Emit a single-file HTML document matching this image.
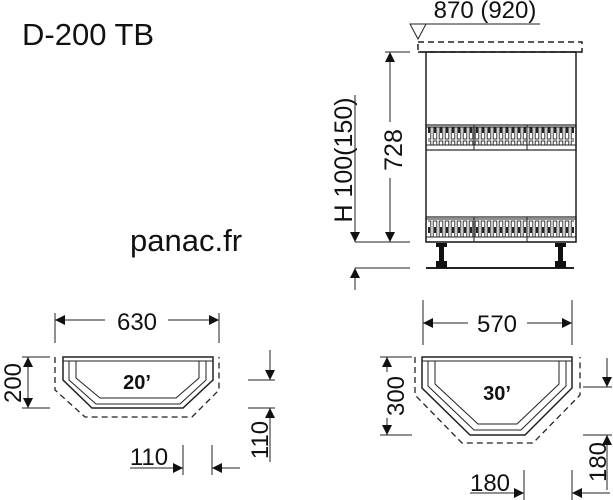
<!DOCTYPE html>
<html><head><meta charset="utf-8"><style>
body{margin:0;background:#fff}
svg{display:block}
text{font-family:"Liberation Sans",Arial,sans-serif;fill:#111}
</style></head><body>
<svg width="613" height="500" viewBox="0 0 613 500" xmlns="http://www.w3.org/2000/svg">
<defs>
<marker id="a" viewBox="0 0 10 10" refX="10" refY="5" markerWidth="10" markerHeight="10" orient="auto-start-reverse" markerUnits="userSpaceOnUse"><path d="M0,0L10,5L0,10z" fill="#111"/></marker>
<pattern id="bal" width="6" height="20" patternUnits="userSpaceOnUse"><rect x="1.2" y="1" width="3.6" height="18" fill="none" stroke="#222" stroke-width="0.9"/><rect x="2" y="7" width="2" height="6" fill="#222"/></pattern>
</defs>
<text x="22" y="45" font-size="31">D-200 TB</text>
<text x="130" y="251" font-size="31">panac.fr</text>

<g stroke="#222" fill="none" stroke-width="1">
<line x1="410" y1="24" x2="540" y2="24"/>
<path d="M410,24L426,24L418,39z"/>
<rect x="418" y="42" width="164" height="10" stroke-dasharray="6,4" stroke-width="1.5"/>
<line x1="418" y1="52" x2="582" y2="52" stroke-width="1.5"/>
<rect x="426" y="52" width="150" height="190" stroke-width="1.5"/>
<rect x="426" y="125" width="150" height="25" stroke-width="1.2"/>
<rect x="426" y="217" width="150" height="25" stroke-width="1.2"/>
<rect x="428" y="127" width="146" height="18" fill="url(#bal)" stroke="none"/>
<rect x="428" y="219" width="146" height="18" fill="url(#bal)" stroke="none"/>
<line x1="426" y1="145" x2="576" y2="145"/><line x1="426" y1="237" x2="576" y2="237"/>
<line x1="426" y1="127" x2="576" y2="127"/><line x1="426" y1="219" x2="576" y2="219"/>
<line x1="474" y1="125" x2="474" y2="150"/><line x1="527" y1="125" x2="527" y2="150"/>
<line x1="474" y1="217" x2="474" y2="242"/><line x1="527" y1="217" x2="527" y2="242"/>
<line x1="426" y1="268" x2="574" y2="268" stroke-width="2"/>
</g>
<g fill="#111">
<rect x="436" y="243" width="11" height="4"/><rect x="439" y="247" width="5" height="15"/><rect x="436" y="261" width="11" height="7"/>
<rect x="555" y="243" width="11" height="4"/><rect x="558" y="247" width="5" height="15"/><rect x="555" y="261" width="11" height="7"/>
</g>
<g stroke="#222" fill="none" stroke-width="1">
<line x1="385" y1="52" x2="410" y2="52"/>
<line x1="355" y1="242" x2="410" y2="242"/>
<line x1="355" y1="268" x2="410" y2="268"/>
<line x1="390" y1="52" x2="390" y2="122" marker-start="url(#a)"/>
<line x1="390" y1="178" x2="390" y2="242" marker-end="url(#a)"/>
<line x1="355" y1="95" x2="355" y2="242" marker-end="url(#a)"/>
<line x1="355" y1="290" x2="355" y2="268" marker-end="url(#a)"/>
</g>
<text transform="translate(402,150) rotate(-90)" font-size="25" text-anchor="middle">728</text>
<text transform="translate(352,160) rotate(-90)" font-size="25" text-anchor="middle">H 100(150)</text>
<text x="485" y="18" font-size="24" text-anchor="middle">870 (920)</text>

<g stroke="#222" fill="none" stroke-width="1">
<line x1="55" y1="313" x2="55" y2="343"/><line x1="219" y1="313" x2="219" y2="343"/>
<line x1="55" y1="320" x2="105" y2="320" marker-start="url(#a)"/>
<line x1="168" y1="320" x2="219" y2="320" marker-end="url(#a)"/>
<path d="M55,357L55,390L85,417L192,417L219,390L219,357" stroke-dasharray="6,4" stroke-width="1.3"/>
<path d="M63,357L213,357L213,380L183,408L92,408L63,380z" stroke-width="1.5"/>
<path d="M63,361L213,361"/>
<path d="M69,361L69,380L96,404L180,404L206,380L206,361"/>
<path d="M76,361L76,378L100,398L176,398L199,378L199,361"/>
<line x1="22" y1="357" x2="50" y2="357"/><line x1="22" y1="408" x2="50" y2="408"/>
<line x1="28" y1="357" x2="28" y2="408" marker-start="url(#a)" marker-end="url(#a)"/>
<line x1="248" y1="380" x2="275" y2="380"/><line x1="248" y1="408" x2="275" y2="408"/>
<line x1="270" y1="350" x2="270" y2="380" marker-end="url(#a)"/>
<line x1="270" y1="462" x2="270" y2="408" marker-end="url(#a)"/>
<line x1="183" y1="445" x2="183" y2="475"/><line x1="212" y1="445" x2="212" y2="475"/>
<line x1="130" y1="468" x2="183" y2="468" marker-end="url(#a)"/>
<line x1="240" y1="468" x2="212" y2="468" marker-end="url(#a)"/>
</g>
<text x="137" y="330" font-size="24" text-anchor="middle">630</text>
<text x="137" y="389" font-size="20" font-weight="bold" text-anchor="middle">20’</text>
<text transform="translate(21,383) rotate(-90)" font-size="24" text-anchor="middle">200</text>
<text transform="translate(268,440) rotate(-90)" font-size="24" text-anchor="middle">110</text>
<text x="149" y="465" font-size="24" text-anchor="middle">110</text>

<g stroke="#222" fill="none" stroke-width="1">
<line x1="423" y1="300" x2="423" y2="345"/><line x1="572" y1="300" x2="572" y2="345"/>
<line x1="423" y1="323" x2="468" y2="323" marker-start="url(#a)"/>
<line x1="527" y1="323" x2="572" y2="323" marker-end="url(#a)"/>
<path d="M415,357L415,395L462,443L533,443L580,395L580,357" stroke-dasharray="6,4" stroke-width="1.3"/>
<path d="M422,357L572,357L572,388L525,435L470,435L422,388z" stroke-width="1.5"/>
<path d="M422,361L572,361"/>
<path d="M428,361L428,386L474,430L521,430L566,386L566,361"/>
<path d="M435,361L435,384L478,424L517,424L559,384L559,361"/>
<line x1="380" y1="357" x2="412" y2="357"/><line x1="380" y1="435" x2="412" y2="435"/>
<line x1="387" y1="357" x2="387" y2="372" marker-start="url(#a)"/>
<line x1="387" y1="418" x2="387" y2="435" marker-end="url(#a)"/>
<line x1="583" y1="387" x2="612" y2="387"/><line x1="583" y1="435" x2="612" y2="435"/>
<line x1="607" y1="358" x2="607" y2="387" marker-end="url(#a)"/>
<line x1="607" y1="490" x2="607" y2="435" marker-end="url(#a)"/>
<line x1="524" y1="470" x2="524" y2="500"/><line x1="572" y1="470" x2="572" y2="500"/>
<line x1="470" y1="493" x2="524" y2="493" marker-end="url(#a)"/>
<line x1="610" y1="493" x2="572" y2="493" marker-end="url(#a)"/>
</g>
<text x="497" y="332" font-size="24" text-anchor="middle">570</text>
<text x="497" y="400" font-size="20" font-weight="bold" text-anchor="middle">30’</text>
<text transform="translate(404,396) rotate(-90)" font-size="24" text-anchor="middle">300</text>
<text transform="translate(606,462) rotate(-90)" font-size="24" text-anchor="middle">180</text>
<text x="490" y="491" font-size="24" text-anchor="middle">180</text>
</svg>
</body></html>
